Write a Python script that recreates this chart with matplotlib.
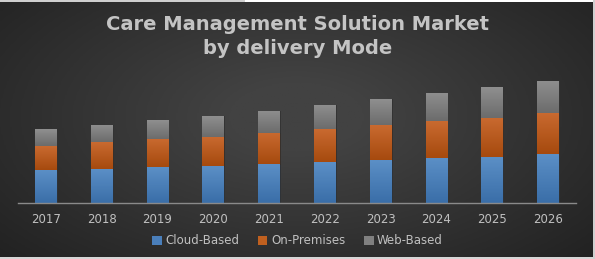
import numpy as np
import matplotlib
matplotlib.use("Agg")
import matplotlib.pyplot as plt
from matplotlib.colors import LinearSegmentedColormap
from matplotlib.patches import Rectangle

years = ["2017", "2018", "2019", "2020", "2021", "2022", "2023", "2024", "2025", "2026"]
cloud = [33, 34, 35.7, 36.7, 39, 40.7, 43, 44.7, 46, 48.7]
premises = [24, 26.7, 28.7, 29.3, 31.3, 33, 34.7, 37, 39.3, 41.3]
web = [17, 17.3, 18.7, 20.7, 22, 24.3, 26, 28.7, 31, 32.3]
series_names = ["Cloud-Based", "On-Premises", "Web-Based"]

W, H = 595, 259
fig = plt.figure(figsize=(W / 100, H / 100), dpi=100)
fig.patch.set_facecolor("white")

# background gradient panel
bg = fig.add_axes([0, 2 / H, 593 / W, 1 - 4 / H])
bg.set_axis_off()
yy, xx = np.mgrid[0:1:200j, 0:1:400j]
r = np.sqrt(((xx - 0.5) / 0.75) ** 2 + ((yy - 0.45) / 0.9) ** 2)
val = np.clip(1 - r, 0, 1)
bgcmap = LinearSegmentedColormap.from_list("bg", ["#1e1e1e", "#424242"])
bg.imshow(val, cmap=bgcmap, aspect="auto", extent=[0, 1, 0, 1], vmin=0, vmax=0.85)
bg.set_xlim(0, 1)
bg.set_ylim(0, 1)

# border strips
fig.patches.append(Rectangle((0, 1 - 2 / H), 245 / W, 2 / H, transform=fig.transFigure,
                             facecolor="#cfcfcf", edgecolor="none", zorder=5))
fig.patches.append(Rectangle((593 / W, 0), 2 / W, 1, transform=fig.transFigure,
                             facecolor="#d0d0d0", edgecolor="none", zorder=5))
fig.patches.append(Rectangle((0, 0), 593 / W, 2 / H, transform=fig.transFigure,
                             facecolor="#d6d6d6", edgecolor="none", zorder=5))

ax = fig.add_axes([18 / W, (H - 203) / H, 558 / W, 133 / H])
ax.patch.set_alpha(0)
x = np.arange(len(years))
width = 0.39

top_colors = ["#5b8fc6", "#c96a30", "#8f8f8f"]
bot_colors = ["#3a6ea8", "#a64a0e", "#6c6c6c"]
bottom = np.zeros(len(years))
for vals, name, tc, bc in zip([cloud, premises, web], series_names, top_colors, bot_colors):
    bars = ax.bar(x, vals, width, bottom=bottom, color=tc, edgecolor="#2a2a2a",
                  linewidth=0.6, label=name, zorder=2)
    cmap = LinearSegmentedColormap.from_list("g", [bc, tc])
    grad = np.linspace(0, 1, 64).reshape(-1, 1)
    for b in bars:
        x0, y0 = b.get_x(), b.get_y()
        im = ax.imshow(grad, cmap=cmap, aspect="auto", origin="lower",
                       extent=[x0, x0 + b.get_width(), y0, y0 + b.get_height()], zorder=2.5)
        im.set_clip_path(b)
    bottom += np.array(vals)

ax.set_xlim(-0.5, len(years) - 0.5)
ax.set_ylim(0, 133)
ax.set_xticks(x)
ax.set_xticklabels(years, color="#c0c0c0", fontsize=8.5)
ax.tick_params(axis="x", length=0, pad=7)
ax.set_yticks([])
for s in ["top", "right", "left"]:
    ax.spines[s].set_visible(False)
ax.spines["bottom"].set_color("#8a8a8a")
ax.spines["bottom"].set_linewidth(1.0)
ax.spines["bottom"].set_zorder(3)

fig.text(0.5, (H - 30) / H, "Care Management Solution Market", ha="center", va="baseline",
         color="#c4c4c4", fontsize=14, fontweight="bold")
fig.text(0.5, (H - 54) / H, "by delivery Mode", ha="center", va="baseline",
         color="#c4c4c4", fontsize=14, fontweight="bold")

leg_handles = [Rectangle((0, 0), 1, 1, facecolor=c, edgecolor="none") for c in ["#4a7fbb", "#c0601f", "#808080"]]
fig.legend(leg_handles, series_names, loc="center", bbox_to_anchor=(0.5, (H - 241) / H),
           ncol=3, frameon=False, fontsize=8.5, labelcolor="#c0c0c0",
           handlelength=0.8, handleheight=0.8, handletextpad=0.3, columnspacing=1.6)

fig.savefig("out.png", dpi=100)
